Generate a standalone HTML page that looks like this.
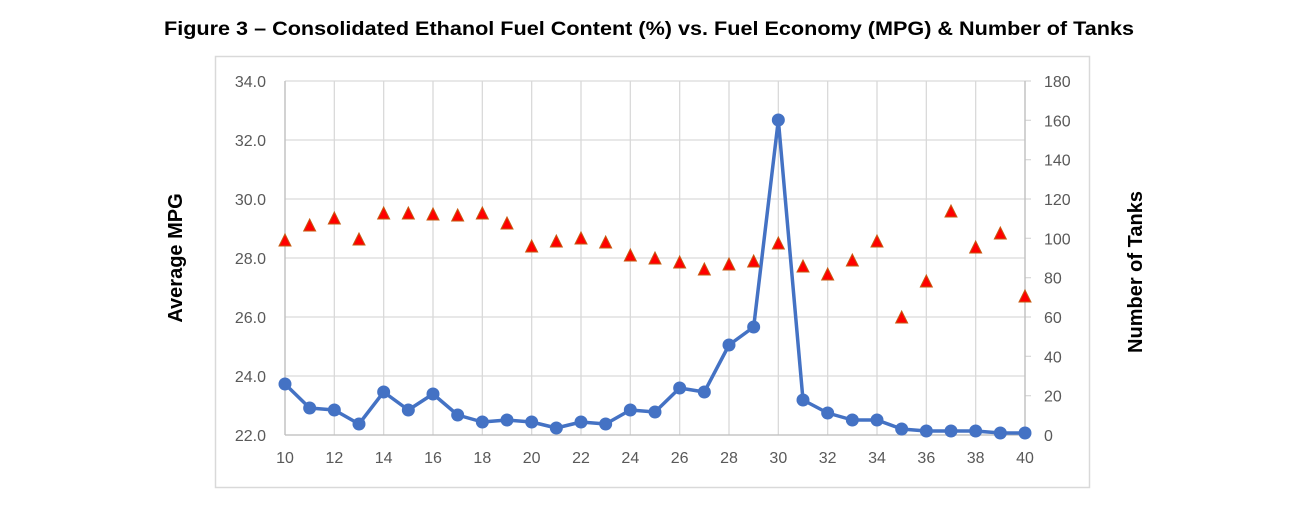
<!DOCTYPE html>
<html><head><meta charset="utf-8"><style>body{margin:0;background:#fff}svg{display:block}text{font-family:"Liberation Sans",sans-serif}</style></head>
<body>
<svg width="1295" height="507" viewBox="0 0 1295 507">
<text x="649" y="35" text-anchor="middle" font-size="19" font-weight="bold" fill="#000" textLength="970" lengthAdjust="spacingAndGlyphs">Figure 3 – Consolidated Ethanol Fuel Content (%) vs. Fuel Economy (MPG) &amp; Number of Tanks</text>
<rect x="215.5" y="56.5" width="874" height="431" fill="none" stroke="#d9d9d9" stroke-width="1.5"/>
<g id="g" stroke="#d9d9d9" stroke-width="1.3"></g>
<g id="lab" font-size="16" fill="#595959"></g>
<text transform="translate(182,258) rotate(-90)" text-anchor="middle" font-size="20" font-weight="bold">Average MPG</text>
<text transform="translate(1142,272) rotate(-90)" text-anchor="middle" font-size="20" font-weight="bold">Number of Tanks</text>
<polyline id="line" fill="none" stroke="#4472c4" stroke-width="3.5" stroke-linejoin="round"/>
<g id="pts"></g>
</svg>
<script>
const ns="http://www.w3.org/2000/svg";
function el(t,a,p,txt){const e=document.createElementNS(ns,t);for(const k in a)e.setAttribute(k,a[k]);if(txt!=null)e.textContent=txt;document.getElementById(p)?document.getElementById(p).appendChild(e):document.querySelector('svg').appendChild(e);return e;}
const L=285,R=1025,T=81,B=435;const X=v=>L+(v-10)*(R-L)/30;
for(let v=10;v<=40;v+=2){el('line',{x1:X(v),x2:X(v),y1:T,y2:B},'g');el('text',{x:X(v),y:463,'text-anchor':'middle'},'lab',v);}
for(let i=0;i<=6;i++){const y=B-i*(B-T)/6;el('line',{x1:L,x2:R,y1:y,y2:y},'g');el('text',{x:266,y:y+6,'text-anchor':'end'},'lab',(22+2*i).toFixed(1));}
for(let i=0;i<=9;i++){const y=B-i*(B-T)/9;el('line',{x1:R,x2:R+6,y1:y,y2:y},'g');el('text',{x:1044,y:y+6},'lab',i*20);}
el('line',{x1:R,x2:R,y1:T,y2:B,stroke:'#bfbfbf'},'g');el('line',{x1:L,x2:L,y1:T,y2:B,stroke:'#bfbfbf'},'g');el('line',{x1:L,x2:R,y1:B,y2:B,stroke:'#bfbfbf'},'g');
const b=[384,408,410,424,392,410,394,415,422,420,422,428,422,424,410,412,388,392,345,327,120,400,413,420,420,429,431,431,431,433,433];
const t=[241,226,219,240,214,214,215,216,214,224,247,242,239,243,256,259,263,270,265,262,244,267,275,261,242,318,282,212,248,234,297];
document.getElementById('line').setAttribute('points',b.map((y,i)=>X(10+i)+','+y).join(' '));
b.forEach((y,i)=>el('circle',{cx:X(10+i),cy:y,r:6.5,fill:'#4472c4'},'pts'));
t.forEach((y,i)=>{const x=X(10+i);el('polygon',{points:`${x},${y-7} ${x-6},${y+5} ${x+6},${y+5}`,fill:'#ff0000',stroke:'#c55a11','stroke-width':1},'pts');});
</script>
</body></html>
